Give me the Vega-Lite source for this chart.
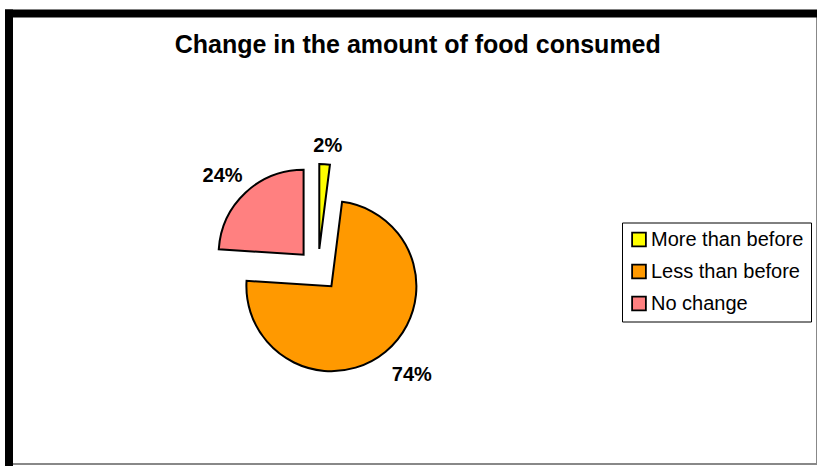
{
  "$schema": "https://vega.github.io/schema/vega-lite/v6.json",
  "width": 808.5,
  "height": 451,
  "autosize": "none",
  "padding": {"left": 8.5, "top": 13, "right": 0, "bottom": 2},
  "background": "white",
  "title": {
    "text": "Change in the amount of food consumed",
    "font": "Liberation Sans",
    "fontSize": 25,
    "fontWeight": "bold",
    "color": "#000",
    "anchor": "middle",
    "offset": -45,
    "dx": 5
  },
  "data": {
    "values": [
      {"category": "More than before", "value": 2, "rank": 10},
      {"category": "Less than before", "value": 74, "rank": 20},
      {"category": "No change", "value": 24, "rank": 30}
    ]
  },
  "transform": [
    {"stack": "value", "groupby": [], "sort": [{"field": "rank", "order": "ascending"}], "as": ["v0", "v9"]},
    {"calculate": "(datum.v0 + datum.v9) / 2", "as": "mid"},
    {"calculate": "datum.value + '%'", "as": "label"}
  ],
  "encoding": {
    "x": {
      "datum": 38.28,
      "type": "quantitative",
      "scale": {"domain": [0, 100]},
      "axis": {"orient": "top", "domain": true, "domainColor": "#000", "domainWidth": 8, "domainCap": "square", "labels": false, "ticks": false, "grid": false, "title": null}
    },
    "y": {
      "datum": 43.02,
      "type": "quantitative",
      "scale": {"domain": [0, 100]},
      "axis": {"orient": "left", "domain": true, "domainColor": "#000", "domainWidth": 8, "domainCap": "square", "labels": false, "ticks": false, "grid": false, "title": null}
    },
    "color": {
      "field": "category",
      "type": "nominal",
      "scale": {
        "domain": ["More than before", "Less than before", "No change"],
        "range": ["#FFFF00", "#FF9900", "#FF8080"]
      },
      "legend": {
        "orient": "none",
        "legendX": 613.5,
        "legendY": 209.5,
        "title": null,
        "symbolType": "square",
        "symbolSize": 190,
        "symbolStrokeColor": "#000",
        "symbolStrokeWidth": 1.8,
        "labelFont": "Liberation Sans",
        "labelFontSize": 20,
        "labelColor": "#000",
        "labelLimit": 400,
        "labelOffset": 2,
        "rowPadding": 10,
        "padding": 7,
        "strokeColor": "#000"
      }
    }
  },
  "layer": [
    {
      "transform": [{"filter": {"field": "category", "equal": "More than before"}}],
      "mark": {"type": "arc", "radius": 85, "stroke": "#000", "strokeWidth": 2, "strokeJoin": "miter", "xOffset": 1.3, "yOffset": -21},
      "encoding": {
        "theta": {"field": "v0", "type": "quantitative", "stack": null, "scale": {"domain": [0, 100]}},
        "theta2": {"field": "v9"}
      }
    },
    {
      "transform": [{"filter": {"field": "category", "equal": "Less than before"}}],
      "mark": {"type": "arc", "radius": 85, "stroke": "#000", "strokeWidth": 2, "strokeJoin": "miter", "xOffset": 13.4, "yOffset": 16.2},
      "encoding": {
        "theta": {"field": "v0", "type": "quantitative", "stack": null, "scale": {"domain": [0, 100]}},
        "theta2": {"field": "v9"}
      }
    },
    {
      "transform": [{"filter": {"field": "category", "equal": "No change"}}],
      "mark": {"type": "arc", "radius": 85, "stroke": "#000", "strokeWidth": 2, "strokeJoin": "miter", "xOffset": -14.4, "yOffset": -15.3},
      "encoding": {
        "theta": {"field": "v0", "type": "quantitative", "stack": null, "scale": {"domain": [0, 100]}},
        "theta2": {"field": "v9"}
      }
    },
    {
      "transform": [{"filter": {"field": "category", "equal": "More than before"}}],
      "mark": {"type": "text", "radius": 104, "font": "Liberation Sans", "fontSize": 20, "fontWeight": "bold", "align": "center", "baseline": "middle", "xOffset": 1.3, "yOffset": -21, "dx": 2, "dy": 1},
      "encoding": {
        "theta": {"field": "mid", "type": "quantitative", "stack": null, "scale": {"domain": [0, 100]}},
        "text": {"field": "label", "type": "nominal"},
        "color": {"value": "#000"}
      }
    },
    {
      "transform": [{"filter": {"field": "category", "equal": "Less than before"}}],
      "mark": {"type": "text", "radius": 120, "font": "Liberation Sans", "fontSize": 20, "fontWeight": "bold", "align": "center", "baseline": "middle", "xOffset": 13.4, "yOffset": 16.2, "dx": 4, "dy": -4},
      "encoding": {
        "theta": {"field": "mid", "type": "quantitative", "stack": null, "scale": {"domain": [0, 100]}},
        "text": {"field": "label", "type": "nominal"},
        "color": {"value": "#000"}
      }
    },
    {
      "transform": [{"filter": {"field": "category", "equal": "No change"}}],
      "mark": {"type": "text", "radius": 114, "font": "Liberation Sans", "fontSize": 20, "fontWeight": "bold", "align": "center", "baseline": "middle", "xOffset": -14.4, "yOffset": -15.3, "dx": -3, "dy": 4},
      "encoding": {
        "theta": {"field": "mid", "type": "quantitative", "stack": null, "scale": {"domain": [0, 100]}},
        "text": {"field": "label", "type": "nominal"},
        "color": {"value": "#000"}
      }
    }
  ],
  "config": {
    "view": {"stroke": "#888", "strokeWidth": 2},
    "axis": {"zindex": 1}
  }
}
